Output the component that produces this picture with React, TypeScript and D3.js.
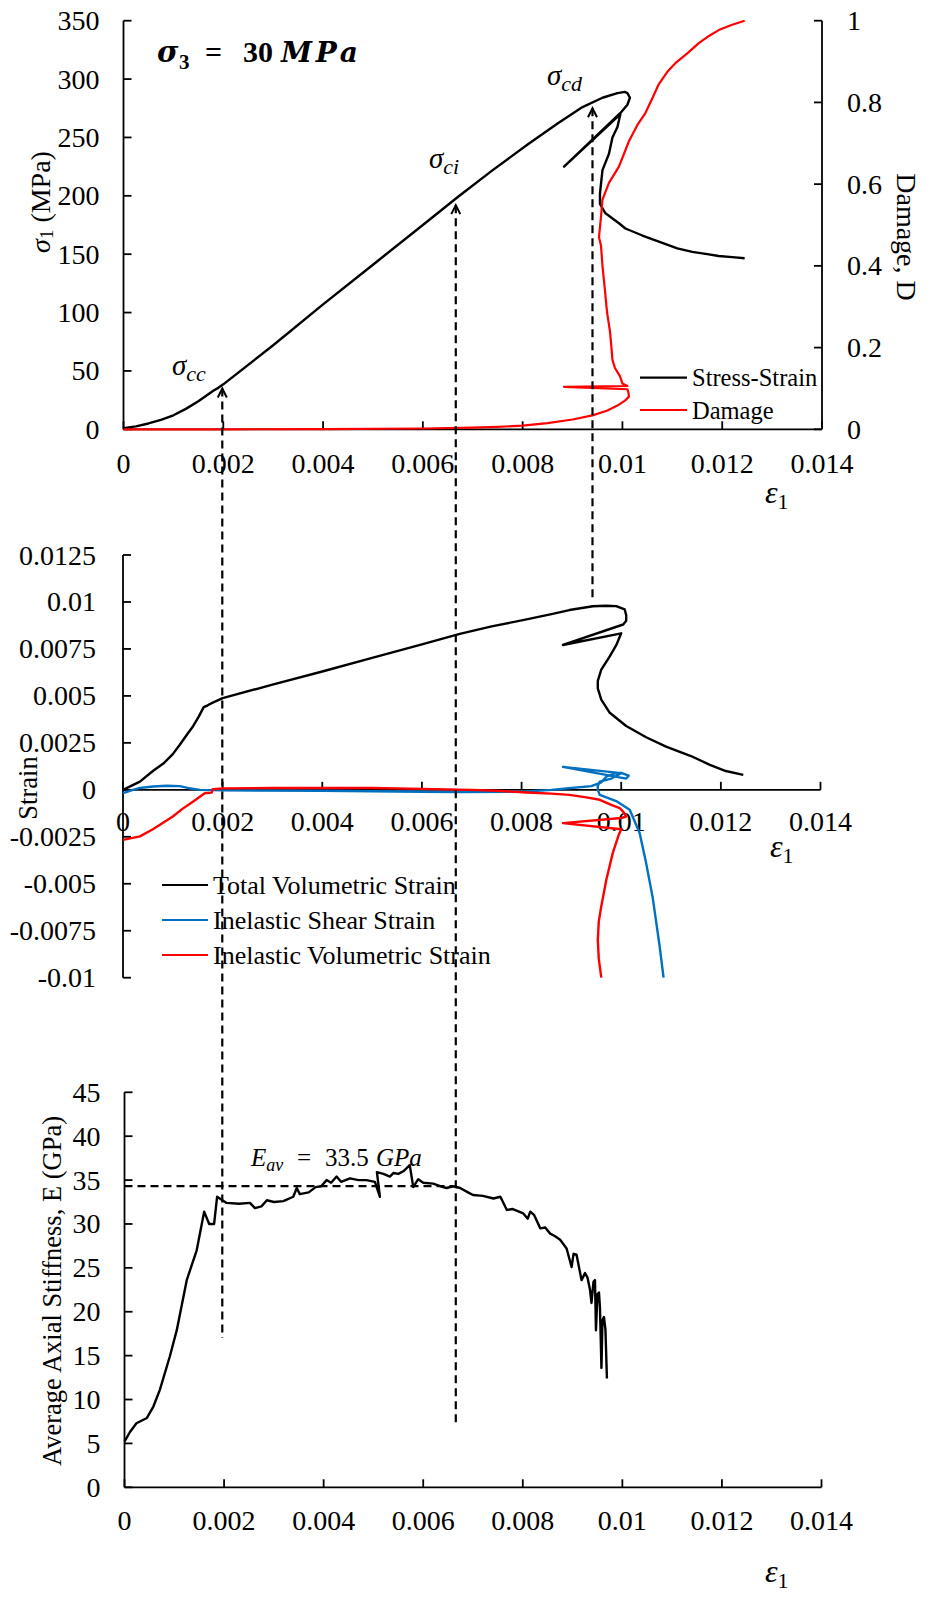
import React from 'react';
import * as d3 from 'd3';

type P = [number, number];

// ---------- DATA ----------
const xTickValues = [0, 0.002, 0.004, 0.006, 0.008, 0.01, 0.012, 0.014];
const xTickLabels = ['0', '0.002', '0.004', '0.006', '0.008', '0.01', '0.012', '0.014'];
const sigmaTicks = [0, 50, 100, 150, 200, 250, 300, 350];
const damageTicks = [0, 0.2, 0.4, 0.6, 0.8, 1];
const damageTickLabels = ['0', '0.2', '0.4', '0.6', '0.8', '1'];
const strainTicks = [-0.01, -0.0075, -0.005, -0.0025, 0, 0.0025, 0.005, 0.0075, 0.01, 0.0125];
const strainTickLabels = ['-0.01', '-0.0075', '-0.005', '-0.0025', '0', '0.0025', '0.005', '0.0075', '0.01', '0.0125'];
const stiffTicks = [0, 5, 10, 15, 20, 25, 30, 35, 40, 45];

// Stress-strain (eps1, sigma1 MPa)
const stressStrain: P[] = [
  [0, 1], [0.00025, 2.5], [0.0005, 5], [0.00075, 8], [0.001, 12], [0.00125, 17.5], [0.0015, 24],
  [0.0017, 30], [0.0018, 33], [0.0019, 35.5], [0.002, 38.5], [0.003, 72], [0.004, 107], [0.005, 141],
  [0.006, 175], [0.0067, 199], [0.0074, 222], [0.0081, 244], [0.0087, 262], [0.0092, 276],
  [0.0096, 284], [0.0099, 288], [0.01005, 289], [0.0101, 288], [0.01015, 284], [0.0101, 278],
  [0.00996, 271], [0.00883, 225], [0.00996, 270], [0.0099, 259], [0.0098, 250], [0.00973, 236],
  [0.0096, 222], [0.00955, 202], [0.00955, 193], [0.00966, 185], [0.00993, 176.5], [0.01006, 172],
  [0.0104, 166], [0.01073, 160.7], [0.0111, 155], [0.0114, 152], [0.0117, 150], [0.01193, 148.4],
  [0.0122, 147.5], [0.01245, 146.5],
];

// Damage D (eps1, D)
const damage: P[] = [
  [0, 0], [0.002, 0], [0.004, 0.0005], [0.006, 0.002], [0.007, 0.004], [0.0075, 0.006], [0.008, 0.009],
  [0.0085, 0.015], [0.009, 0.024], [0.0094, 0.034], [0.0097, 0.046], [0.0099, 0.058], [0.01005, 0.07],
  [0.01013, 0.08], [0.01012, 0.09], [0.0101, 0.098], [0.00883, 0.104], [0.0101, 0.106], [0.01, 0.112],
  [0.00995, 0.13], [0.00985, 0.15], [0.0098, 0.17], [0.00978, 0.2], [0.00975, 0.24], [0.0097, 0.28],
  [0.00968, 0.3], [0.00965, 0.34], [0.0096, 0.4], [0.00957, 0.45], [0.00953, 0.47], [0.00957, 0.52],
  [0.0096, 0.562], [0.00973, 0.603], [0.00993, 0.643], [0.01013, 0.705], [0.0103, 0.745],
  [0.01046, 0.774], [0.0106, 0.81], [0.01073, 0.845], [0.0109, 0.875], [0.01106, 0.896],
  [0.0113, 0.92], [0.01153, 0.945], [0.0117, 0.96], [0.01193, 0.977], [0.0122, 0.99], [0.01245, 1.0],
];

// Total volumetric strain
const totalVolStrain: P[] = [
  [0, 0], [0.00034, 0.00044], [0.0006, 0.001], [0.00081, 0.0014], [0.001, 0.0019], [0.00114, 0.0024],
  [0.0013, 0.003], [0.00141, 0.0034], [0.00152, 0.0039], [0.00162, 0.0044], [0.0017, 0.0045],
  [0.00177, 0.0046], [0.002, 0.00488], [0.003, 0.0056], [0.004, 0.0063], [0.005, 0.00702],
  [0.006, 0.00774], [0.00676, 0.0083], [0.0074, 0.0087], [0.0081, 0.00907], [0.0086, 0.00935],
  [0.00896, 0.00957], [0.00943, 0.00977], [0.0097, 0.0098], [0.0099, 0.00978], [0.01007, 0.0096],
  [0.0101, 0.0093], [0.0101, 0.009], [0.01004, 0.0088], [0.00883, 0.00771], [0.01, 0.00833],
  [0.0099, 0.0077], [0.00977, 0.0071], [0.0096, 0.0064], [0.00953, 0.0058], [0.00953, 0.0054],
  [0.0096, 0.0048], [0.00977, 0.0041], [0.0101, 0.0034], [0.0105, 0.0028], [0.0109, 0.0023],
  [0.0114, 0.0018], [0.01178, 0.00133], [0.0121, 0.001], [0.01245, 0.0008],
];

// Inelastic shear strain
const inelasticShear: P[] = [
  [0, -0.00018], [0.0002, 0], [0.00034, 0.0001], [0.0006, 0.00018], [0.00088, 0.00022], [0.00114, 0.0002],
  [0.0013, 0.0001], [0.00154, 0], [0.002, -0.00003], [0.004, -0.00005], [0.006, -0.0001],
  [0.00676, -0.00012], [0.008, -0.0001], [0.0086, 0], [0.009, 0.0001], [0.0094, 0.0002],
  [0.0096, 0.0004], [0.0097, 0.0007], [0.0099, 0.0009], [0.01, 0.0009], [0.01015, 0.00075],
  [0.0101, 0.0006], [0.00883, 0.00122], [0.01, 0.00089], [0.0098, 0.0006], [0.00957, 0.00044],
  [0.00953, 0.0002], [0.00953, 0], [0.00957, -0.00027], [0.0099, -0.0006], [0.01017, -0.00106],
  [0.01037, -0.0023], [0.0105, -0.0039], [0.01063, -0.0057], [0.01077, -0.0083], [0.01085, -0.01],
];

// Inelastic volumetric strain
const inelasticVol: P[] = [
  [0, -0.00266], [0.00034, -0.00248], [0.0006, -0.0021], [0.001, -0.00142], [0.0012, -0.001],
  [0.00141, -0.00062], [0.00164, -0.00018], [0.00178, -0.00015], [0.0018, 0.00003], [0.002, 0.00008],
  [0.003, 0.0001], [0.004, 0.0001], [0.005, 0.0001], [0.006, 0.00005], [0.007, 0], [0.0075, -0.00005],
  [0.0081, -0.00014], [0.0086, -0.0002], [0.00896, -0.00027], [0.0093, -0.0004], [0.00957, -0.00053],
  [0.0098, -0.0008], [0.00997, -0.00097], [0.01005, -0.0012], [0.0101, -0.00142], [0.01, -0.0015],
  [0.00883, -0.00177], [0.01, -0.0021], [0.00995, -0.0024], [0.00983, -0.00337], [0.0097, -0.0048],
  [0.00965, -0.0055], [0.0096, -0.0062], [0.00955, -0.007], [0.00953, -0.008], [0.00955, -0.009],
  [0.0096, -0.01],
];

// Average axial stiffness E (GPa)
const stiffness: P[] = [
  [0, 5.2], [0.00011, 6.3], [0.00024, 7.3], [0.00045, 7.9], [0.00058, 9.2], [0.00071, 11.1],
  [0.00091, 14.9], [0.00105, 17.9], [0.00125, 23.6], [0.00145, 27], [0.0016, 31.4], [0.00168, 30.3],
  [0.0017, 30], [0.0018, 30], [0.00186, 33.1], [0.00205, 32.4], [0.0023, 32.3], [0.00252, 32.4],
  [0.00262, 31.8], [0.00275, 32], [0.00286, 32.7], [0.003, 32.5], [0.00319, 32.6], [0.00339, 33.1],
  [0.00346, 34.1], [0.00352, 33.4], [0.0037, 33.6], [0.00384, 34.2], [0.00395, 34.3], [0.00406, 35],
  [0.00415, 34.7], [0.00426, 35.4], [0.00435, 34.8], [0.00453, 35.2], [0.0047, 35], [0.00486, 35],
  [0.00503, 34.8], [0.00513, 33.1], [0.00507, 35.9], [0.0052, 35.7], [0.00533, 35.4], [0.0054, 35.8],
  [0.0055, 35.7], [0.0056, 36], [0.00573, 36.7], [0.0058, 34.2], [0.0059, 35.1], [0.006, 34.7],
  [0.0062, 34.6], [0.0064, 34.2], [0.00647, 34.1], [0.0066, 34.3], [0.00674, 34.1], [0.0069, 33.6],
  [0.007, 33.3], [0.0072, 33.2], [0.00741, 32.9], [0.00755, 33.1], [0.00768, 31.6], [0.0078, 31.7],
  [0.00801, 31.2], [0.0081, 30.6], [0.00815, 31.4], [0.00823, 31], [0.00835, 29.5], [0.00845, 29.6],
  [0.00855, 28.9], [0.00865, 28.6], [0.00875, 28.2], [0.00888, 27.2], [0.00898, 25.1], [0.00902, 26.6],
  [0.00908, 26.5], [0.00918, 23.6], [0.00925, 24.4], [0.0093, 23.9], [0.00935, 22.5], [0.00938, 21],
  [0.00942, 23.4], [0.00945, 23.6], [0.00947, 17.9], [0.0095, 22], [0.00953, 22.2], [0.00955, 20.5],
  [0.00958, 13.6], [0.0096, 19], [0.00963, 19.4], [0.00966, 18], [0.00969, 12.4],
];

// Threshold annotations (eps1, arrow tip sigma, end of dashed line)
const thresholdEps = [0.00198, 0.00666, 0.0094];
const thresholdTipSigma = [35, 192, 275];
const thresholdEndStiffness = [17, 7.3];
const cdEndStrain = 0.0101;
const eAverageLine = 34.3;
const eAverageLineEnd = 0.0066;

// ---------- LAYOUT ----------
const W = 933, H = 1597;
const FONT = '"Liberation Serif", "Times New Roman", serif';
const MATHFONT = '"DejaVu Serif", "Liberation Serif", serif';
const TICK_FS = 28;

const xTop = d3.scaleLinear().domain([0, 0.014]).range([123.5, 822]);
const ySig = d3.scaleLinear().domain([0, 350]).range([429.3, 20.7]);
const yDam = d3.scaleLinear().domain([0, 1]).range([429.3, 20.7]);

const xMid = d3.scaleLinear().domain([0, 0.014]).range([123, 820.5]);
const yStr = d3.scaleLinear().domain([-0.01, 0.0125]).range([977.7, 555]);

const xBot = d3.scaleLinear().domain([0, 0.014]).range([124.5, 821.5]);
const yE = d3.scaleLinear().domain([0, 45]).range([1487.3, 1092.3]);

function mkLine(x: d3.ScaleLinear<number, number>, y: d3.ScaleLinear<number, number>) {
  return d3.line<P>().x(d => x(d[0])).y(d => y(d[1]));
}

const AX = { stroke: '#000', strokeWidth: 1.8, fill: 'none' } as const;

function LeftAxis({ x, y, ticks, labels, pad = 24 }: any) {
  const x0 = x.range()[0];
  const [d0, d1] = y.domain();
  return (
    <g>
      <line x1={x0} x2={x0} y1={y(d0)} y2={y(d1)} {...AX} />
      {ticks.map((t: number, i: number) => (
        <g key={i}>
          <line x1={x0} x2={x0 + 8} y1={y(t)} y2={y(t)} {...AX} />
          <text x={x0 - pad} y={y(t)} textAnchor="end" dominantBaseline="central" fontSize={TICK_FS}>
            {labels ? labels[i] : String(t)}
          </text>
        </g>
      ))}
    </g>
  );
}

function BottomAxis({ x, yPos, labelBase }: any) {
  return (
    <g>
      <line x1={x(0)} x2={x(0.014)} y1={yPos} y2={yPos} {...AX} />
      {xTickValues.map((t, i) => (
        <g key={i}>
          <line x1={x(t)} x2={x(t)} y1={yPos} y2={yPos - 8} {...AX} />
          <text x={x(t)} y={labelBase} textAnchor="middle" fontSize={TICK_FS}>{xTickLabels[i]}</text>
        </g>
      ))}
    </g>
  );
}

function EpsLabel({ x, y }: { x: number; y: number }) {
  return (
    <text x={x} y={y} fontSize={32} fontStyle="italic">
      ε<tspan fontSize={22} fontStyle="normal" dy={6}>1</tspan>
    </text>
  );
}

function Arrow({ x, y }: { x: number; y: number }) {
  return <path d={`M${x - 4.5},${y + 9} L${x},${y} L${x + 4.5},${y + 9}`} stroke="#000" strokeWidth={2} fill="none" />;
}

export default function App() {
  const lTop = mkLine(xTop, ySig);
  const lDam = mkLine(xTop, yDam);
  const lMid = mkLine(xMid, yStr);
  const lBot = mkLine(xBot, yE);
  const dash = '8,5';
  const xs = thresholdEps.map(e => xTop(e));

  return (
    <svg width={W} height={H} style={{ position: 'absolute', left: 0, top: 0, background: '#fff' }}
      fontFamily={FONT} fill="#000">
      <rect width={W} height={H} fill="#fff" />

      {/* ===== TOP PANEL ===== */}
      <LeftAxis x={xTop} y={ySig} ticks={sigmaTicks} />
      <g>
        <line x1={822} x2={822} y1={yDam(0)} y2={yDam(1)} {...AX} />
        {damageTicks.map((t, i) => (
          <g key={i}>
            <line x1={822} x2={814} y1={yDam(t)} y2={yDam(t)} {...AX} />
            <text x={847} y={yDam(t)} dominantBaseline="central" fontSize={TICK_FS}>{damageTickLabels[i]}</text>
          </g>
        ))}
      </g>
      <BottomAxis x={xTop} yPos={ySig(0)} labelBase={473} />
      <path d={lTop(stressStrain) || ''} stroke="#000" strokeWidth={2.4} fill="none" strokeLinejoin="round" />
      <path d={lDam(damage) || ''} stroke="#FF0000" strokeWidth={2.2} fill="none" strokeLinejoin="round" />
      <EpsLabel x={765} y={503} />

      <text transform="translate(40,202) rotate(-90)" textAnchor="middle" dominantBaseline="central" fontSize={28}>
        <tspan fontStyle="italic">σ</tspan><tspan fontSize={19} dy={6}>1</tspan><tspan dy={-6}> (MPa)</tspan>
      </text>
      <text transform="translate(906,237) rotate(90)" textAnchor="middle" dominantBaseline="central" fontSize={28}>Damage, D</text>

      {/* title */}
      <g fontWeight="bold">
        <text x={157} y={62} fontSize={29} fontStyle="italic" fontFamily={MATHFONT}>σ</text>
        <text x={179} y={69} fontSize={21}>3</text>
        <text x={205} y={62} fontSize={30}>=</text>
        <text x={243} y={62} fontSize={30}>30</text>
        <text x={281} y={62} fontSize={28} fontStyle="italic" fontFamily={MATHFONT} textLength={77} lengthAdjust="spacing">MPa</text>
      </g>

      {/* legend top */}
      <line x1={640} x2={687} y1={377.7} y2={377.7} stroke="#000" strokeWidth={2.2} />
      <text x={692} y={377.7} dominantBaseline="central" fontSize={24.5}>Stress-Strain</text>
      <line x1={640} x2={687} y1={410} y2={410} stroke="#FF0000" strokeWidth={2.2} />
      <text x={692} y={410} dominantBaseline="central" fontSize={24.5}>Damage</text>

      {/* threshold labels */}
      <text x={172} y={375} fontSize={29} fontStyle="italic">σ<tspan fontSize={22} dy={6}>cc</tspan></text>
      <text x={429} y={168} fontSize={29} fontStyle="italic">σ<tspan fontSize={22} dy={6}>ci</tspan></text>
      <text x={547} y={85} fontSize={29} fontStyle="italic">σ<tspan fontSize={22} dy={6}>cd</tspan></text>

      {/* ===== MIDDLE PANEL ===== */}
      <LeftAxis x={xMid} y={yStr} ticks={strainTicks} labels={strainTickLabels} pad={27} />
      <BottomAxis x={xMid} yPos={yStr(0)} labelBase={831} />
      <path d={lMid(totalVolStrain) || ''} stroke="#000" strokeWidth={2.4} fill="none" strokeLinejoin="round" />
      <path d={lMid(inelasticShear) || ''} stroke="#0070C0" strokeWidth={2.4} fill="none" strokeLinejoin="round" />
      <path d={lMid(inelasticVol) || ''} stroke="#FF0000" strokeWidth={2.4} fill="none" strokeLinejoin="round" />
      <EpsLabel x={770} y={857} />
      <text transform="translate(28,788) rotate(-90)" textAnchor="middle" dominantBaseline="central" fontSize={26.5}>Strain</text>

      {[['Total Volumetric Strain', '#000'], ['Inelastic Shear Strain', '#0070C0'], ['Inelastic Volumetric Strain', '#FF0000']].map((d, i) => (
        <g key={i}>
          <line x1={162} x2={208} y1={885 + i * 35} y2={885 + i * 35} stroke={d[1]} strokeWidth={2.2} />
          <text x={213} y={885 + i * 35} dominantBaseline="central" fontSize={26}>{d[0]}</text>
        </g>
      ))}

      {/* ===== BOTTOM PANEL ===== */}
      <LeftAxis x={xBot} y={yE} ticks={stiffTicks} />
      <BottomAxis x={xBot} yPos={yE(0)} labelBase={1530} />
      <path d={lBot(stiffness) || ''} stroke="#000" strokeWidth={2.4} fill="none" strokeLinejoin="round" />
      <EpsLabel x={765} y={1582} />
      <text transform="translate(52,1291) rotate(-90)" textAnchor="middle" dominantBaseline="central" fontSize={26.5}>
        Average Axial Stiffness, E (GPa)
      </text>

      <line x1={xBot(0)} x2={xBot(eAverageLineEnd)} y1={yE(eAverageLine)} y2={yE(eAverageLine)}
        stroke="#000" strokeWidth={2.2} strokeDasharray={dash} />
      <g fontSize={25}>
        <text x={251} y={1166} fontStyle="italic">E<tspan fontSize={18} dy={5}>av</tspan></text>
        <text x={297} y={1166}>=</text>
        <text x={325} y={1166}>33.5</text>
        <text x={376} y={1166} fontStyle="italic">GPa</text>
      </g>

      {/* ===== dashed threshold lines ===== */}
      <line x1={xs[0]} x2={xs[0]} y1={ySig(thresholdTipSigma[0])} y2={yE(thresholdEndStiffness[0])}
        stroke="#000" strokeWidth={2.2} strokeDasharray={dash} />
      <line x1={xs[1]} x2={xs[1]} y1={ySig(thresholdTipSigma[1])} y2={yE(thresholdEndStiffness[1])}
        stroke="#000" strokeWidth={2.2} strokeDasharray={dash} />
      <line x1={xs[2]} x2={xs[2]} y1={ySig(thresholdTipSigma[2])} y2={yStr(cdEndStrain)}
        stroke="#000" strokeWidth={2.2} strokeDasharray={dash} />
      {xs.map((x, i) => <Arrow key={i} x={x} y={ySig(thresholdTipSigma[i])} />)}
    </svg>
  );
}
